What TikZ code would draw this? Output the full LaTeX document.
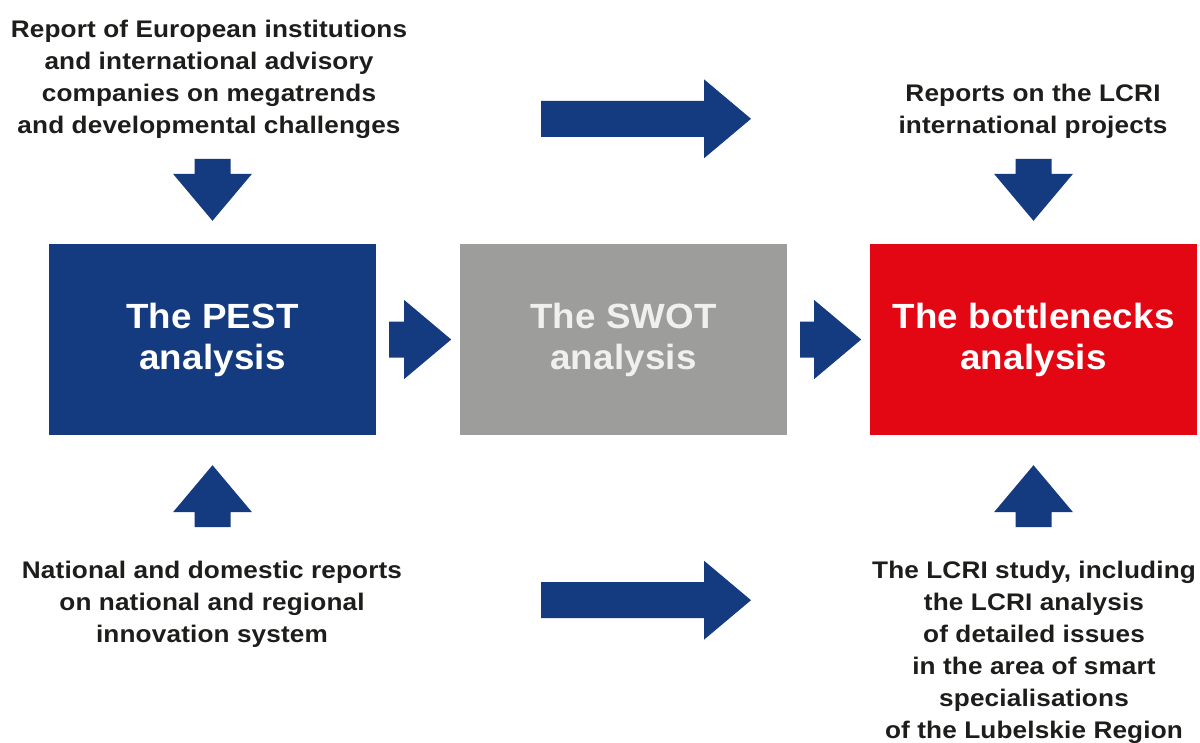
\documentclass[tikz,border=0pt]{standalone}
\usepackage{fontspec}
\setmainfont{Liberation Sans}
\newfontfamily\lblfont[FakeStretch=1.09,LetterSpace=0.6]{Liberation Sans}
\newfontfamily\bxfont[FakeStretch=1.05,LetterSpace=0.5]{Liberation Sans}
\usetikzlibrary{calc}
\definecolor{navy}{HTML}{143A7F}
\definecolor{swotgray}{HTML}{9D9D9C}
\definecolor{bnred}{HTML}{E30613}
\definecolor{inkdark}{HTML}{1D1D1B}
\definecolor{swottext}{HTML}{F0F0F0}
\newcommand{\blockarr}[3]{\fill[navy,shift={#1},rotate=#2] (0,-18) -- ({#3-47},-18) -- ({#3-47},-39.5) -- (#3,0) -- ({#3-47},39.5) -- ({#3-47},18) -- (0,18) -- cycle;}
\tikzset{
  box/.style={minimum width=327pt, minimum height=191pt, inner sep=0pt, align=center,
    font=\bxfont\bfseries\fontsize{35}{41}\selectfont},
  lbl/.style={anchor=north, inner sep=0pt, align=center, text=inkdark,
    font=\lblfont\bfseries\fontsize{24}{32}\selectfont}
}
\begin{document}
\begin{tikzpicture}[x=1pt,y=-1pt]
\useasboundingbox (0,0) rectangle (1200,742);
\fill[white] (0,0) rectangle (1200,742);

\node[box, fill=navy, text=white] (pest) at (212.5,339.5) {The PEST\\analysis};
\node[box, fill=swotgray, text=swottext] (swot) at (623.5,339.5) {The SWOT\\analysis};
\node[box, fill=bnred, text=white] (bn) at (1033.5,339.5) {The bottlenecks\\analysis};

\node[lbl] (eur) at (209,19.7) {Report of European institutions\\and international advisory\\companies on megatrends\\and developmental challenges};
\node[lbl] (lcriint) at (1033,83.7) {Reports on the LCRI\\international projects};
\node[lbl] (nat) at (212,560.7) {National and domestic reports\\on national and regional\\innovation system};
\node[lbl] (study) at (1034,560.7) {The LCRI study, including\\the LCRI analysis\\of detailed issues\\in the area of smart\\specialisations\\of the Lubelskie Region};

% block arrows
\blockarr{($(pest.north)+(0,-85)$)}{-90}{62}
\blockarr{($(bn.north)+(0,-85)$)}{-90}{62}
\blockarr{($(pest.south)+(0,92)$)}{90}{62}
\blockarr{($(bn.south)+(0,92)$)}{90}{62}
\blockarr{($(pest.east)+(13,0)$)}{0}{62}
\blockarr{($(swot.east)+(13,0)$)}{0}{61}
\blockarr{($(swot.north)+(-82.5,-125)$)}{0}{210}
\blockarr{($(swot.south)+(-82.5,165)$)}{0}{210}
\end{tikzpicture}
\end{document}
